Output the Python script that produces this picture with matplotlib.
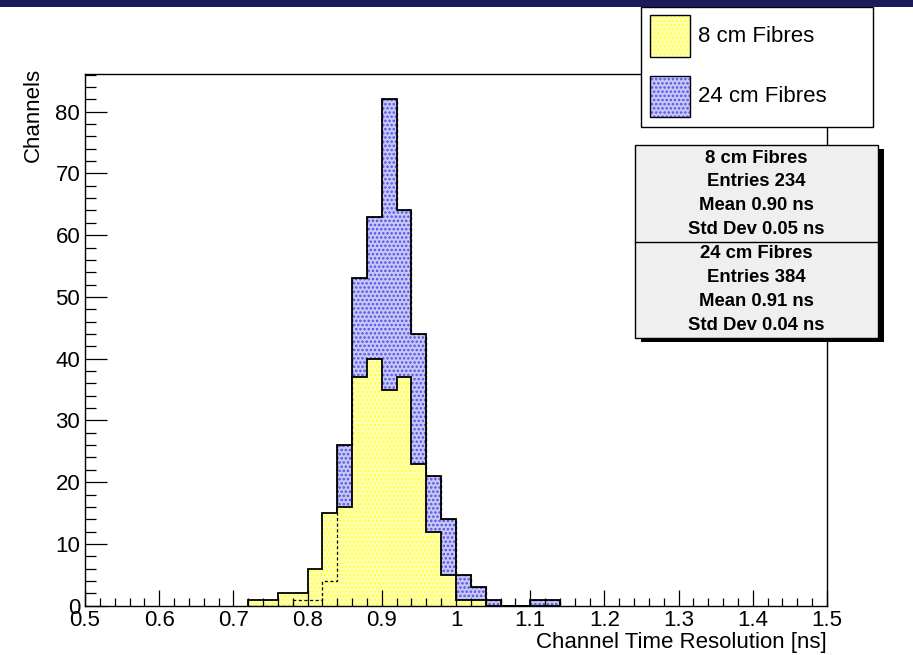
import numpy as np
import matplotlib
matplotlib.use("Agg")
import matplotlib.pyplot as plt
from matplotlib.patches import Rectangle
from matplotlib.ticker import MultipleLocator, FixedLocator, FixedFormatter

plt.rcParams['font.family'] = ['Liberation Sans', 'DejaVu Sans']
plt.rcParams['hatch.linewidth'] = 1.2

# histogram bins: 0.02 ns wide, from 0.72 to 1.14 ns
bin_edges = np.round(np.arange(0.72, 1.1401, 0.02), 2)
counts_8cm = [1, 1, 2, 2, 6, 15, 16, 37, 40, 35, 37, 23, 12, 5, 1, 1, 0, 0, 0, 0, 0]
counts_24cm = [0, 0, 0, 1, 1, 4, 26, 53, 63, 82, 64, 44, 21, 14, 5, 3, 1, 0, 0, 1, 1]

series_names = ["8 cm Fibres", "24 cm Fibres"]
stats_lines = [
    ["8 cm Fibres", "Entries 234", "Mean 0.90 ns", "Std Dev 0.05 ns"],
    ["24 cm Fibres", "Entries 384", "Mean 0.91 ns", "Std Dev 0.04 ns"],
]

x_ticks = [0.5, 0.6, 0.7, 0.8, 0.9, 1.0, 1.1, 1.2, 1.3, 1.4, 1.5]
x_tick_labels = ["0.5", "0.6", "0.7", "0.8", "0.9", "1", "1.1", "1.2", "1.3", "1.4", "1.5"]
y_ticks = [0, 10, 20, 30, 40, 50, 60, 70, 80]

yellow_face, yellow_dot = "#ffffb0", "#ffff50"
blue_face, blue_dot = "#c8c8f6", "#5050e6"

W, H = 913, 655
fig = plt.figure(figsize=(W / 100, H / 100), dpi=100)


def fx(px):
    return px / W


def fy(py):
    return 1 - py / H


ax_l, ax_r, ax_t, ax_b = 85, 827, 74, 605.7
ax = fig.add_axes([fx(ax_l), fy(ax_b), (ax_r - ax_l) / W, (ax_b - ax_t) / H])

# 24 cm drawn first, 8 cm overlaid on top
ax.stairs(counts_24cm, bin_edges, fill=True, facecolor=blue_face,
          edgecolor=blue_dot, hatch="....", linewidth=0)
ax.stairs(counts_24cm, bin_edges, color="black", linewidth=1.3)
ax.stairs(counts_8cm, bin_edges, fill=True, facecolor=yellow_face,
          edgecolor=yellow_dot, hatch="....", linewidth=0)
# outline of the 24 cm histogram showing through the dotted fill
ax.stairs(counts_24cm, bin_edges, color="black", linewidth=0.9,
          linestyle=(0, (2.5, 2)))
ax.stairs(counts_8cm, bin_edges, color="black", linewidth=1.3)

ax.set_xlim(0.5, 1.5)
ax.set_ylim(0, 86.1)
ax.xaxis.set_major_locator(FixedLocator(x_ticks))
ax.xaxis.set_major_formatter(FixedFormatter(x_tick_labels))
ax.xaxis.set_minor_locator(MultipleLocator(0.02))
ax.yaxis.set_major_locator(FixedLocator(y_ticks))
ax.yaxis.set_minor_locator(MultipleLocator(2))

ax.tick_params(axis="both", which="both", direction="in", width=0.9,
               top=False, right=False, labelsize=16)
ax.tick_params(axis="x", which="major", length=11.5, pad=3)
ax.tick_params(axis="x", which="minor", length=5.8)
ax.tick_params(axis="y", which="major", length=15.6, pad=3.5)
ax.tick_params(axis="y", which="minor", length=7.9)
for sp in ax.spines.values():
    sp.set_linewidth(1.0)

ax.set_xlabel("Channel Time Resolution [ns]", fontsize=16, loc="right")
ax.xaxis.set_label_coords(1.0, -0.049)
ax.set_ylabel("Channels", fontsize=16, loc="top")
ax.yaxis.set_label_coords(-0.055, 1.011)

# dark strip along the top edge
fig.add_artist(Rectangle((0, fy(7)), 1, 7 / H, transform=fig.transFigure,
                         facecolor="#1b1b5c", edgecolor="none", zorder=5))

# legend box
lg_l, lg_r, lg_t, lg_b = 641, 873, 7, 127
fig.add_artist(Rectangle((fx(lg_l), fy(lg_b)), (lg_r - lg_l) / W, (lg_b - lg_t) / H,
                         transform=fig.transFigure, facecolor="white",
                         edgecolor="black", linewidth=1.0, zorder=4))
for name, (top, bot), face, dot in zip(series_names, [(15, 57), (76, 117)],
                                       [yellow_face, blue_face], [yellow_dot, blue_dot]):
    rect = ((fx(650), fy(bot)), 40 / W, (bot - top) / H)
    fig.add_artist(Rectangle(*rect, transform=fig.transFigure, facecolor=face,
                             edgecolor=dot, hatch="....", linewidth=0, zorder=4.1))
    fig.add_artist(Rectangle(*rect, transform=fig.transFigure, facecolor="none",
                             edgecolor="black", linewidth=1.0, zorder=4.2))
    fig.text(fx(698), fy((top + bot) / 2), name, fontsize=16, ha="left",
             va="center", zorder=4.3)

# statistics box with drop shadow
st_l, st_r, st_t, st_b = 635, 878, 145, 338
fig.add_artist(Rectangle((fx(st_l + 6), fy(st_b + 4)), (st_r - st_l) / W, (st_b - st_t) / H,
                         transform=fig.transFigure, facecolor="black",
                         edgecolor="none", zorder=4))
fig.add_artist(Rectangle((fx(st_l), fy(st_b)), (st_r - st_l) / W, (st_b - st_t) / H,
                         transform=fig.transFigure, facecolor="#efefef",
                         edgecolor="black", linewidth=1.0, zorder=4.1))
fig.add_artist(plt.Line2D([fx(st_l), fx(st_r)], [fy(242.3), fy(242.3)],
                          transform=fig.transFigure, color="black",
                          linewidth=1.0, zorder=4.2))
line_y = [[158, 182, 206, 230], [254, 278, 302, 326]]
for block, ys in zip(stats_lines, line_y):
    for txt, y in zip(block, ys):
        fig.text(fx((st_l + st_r) / 2), fy(y), txt, fontsize=13.3,
                 fontweight="bold", ha="center", va="center", zorder=4.3)

fig.savefig("out.png", dpi=100)
